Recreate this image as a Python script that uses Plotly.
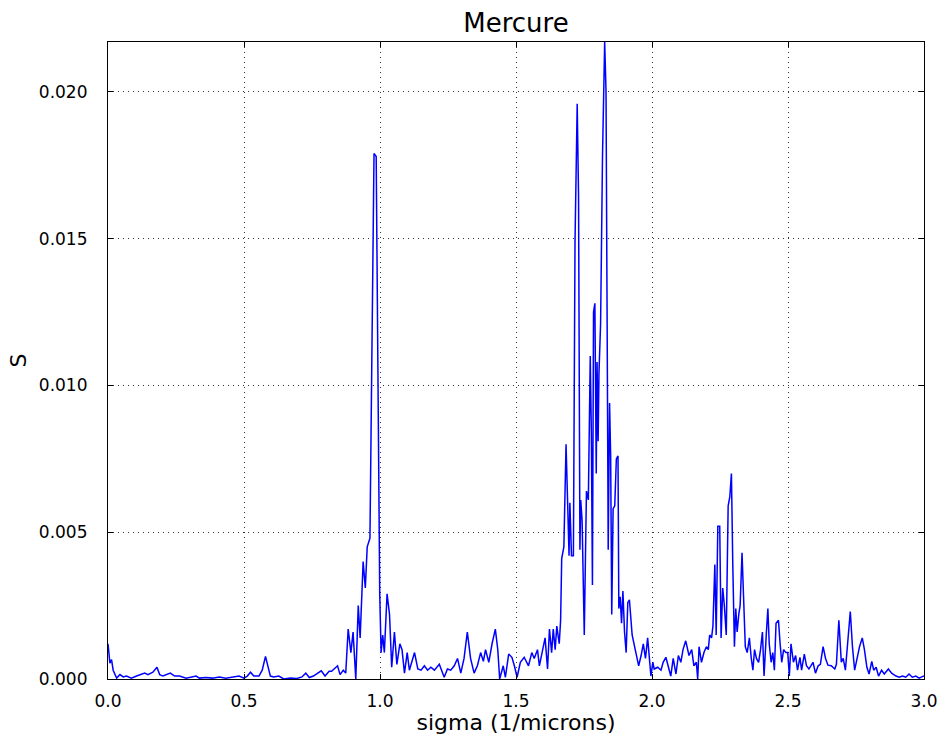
import plotly.graph_objects as go

# sigma (1/microns)
sigma = [
    0.000, 0.007, 0.013, 0.019, 0.026, 0.032, 0.044, 0.056, 0.068, 0.086,
    0.105, 0.117, 0.135, 0.147, 0.165, 0.180, 0.190, 0.202, 0.214, 0.229,
    0.245, 0.263, 0.287, 0.305, 0.324, 0.336, 0.360, 0.384, 0.409, 0.433,
    0.457, 0.482, 0.500, 0.512, 0.524, 0.536, 0.555, 0.567, 0.579, 0.589,
    0.597, 0.609, 0.628, 0.646, 0.670, 0.695, 0.713, 0.727, 0.740, 0.755,
    0.768, 0.784, 0.798, 0.813, 0.822, 0.835, 0.844, 0.853, 0.865, 0.874,
    0.883, 0.893, 0.901, 0.911,
    0.920, 0.927, 0.938, 0.946, 0.953, 0.963, 0.970, 0.978, 0.986, 0.992,
    0.999, 1.004, 1.010, 1.016, 1.026, 1.035, 1.043, 1.053, 1.062, 1.073,
    1.081, 1.090, 1.100, 1.108, 1.127,
    1.139, 1.151, 1.163, 1.175, 1.187, 1.200, 1.218, 1.236, 1.248, 1.260,
    1.273, 1.285, 1.297, 1.309, 1.321, 1.333, 1.346, 1.358, 1.370, 1.380,
    1.388, 1.400, 1.412, 1.424, 1.433, 1.440, 1.453, 1.461, 1.473, 1.485,
    1.494, 1.504, 1.516, 1.530, 1.546, 1.558, 1.567, 1.579, 1.586, 1.599,
    1.607, 1.616, 1.623, 1.631, 1.637, 1.644, 1.650, 1.659, 1.664,
    1.668, 1.676, 1.684, 1.690, 1.695, 1.698, 1.704, 1.711, 1.717, 1.725,
    1.730, 1.735, 1.738, 1.743, 1.751, 1.759, 1.766, 1.773, 1.777, 1.781,
    1.785, 1.790, 1.795, 1.798, 1.802, 1.805, 1.811, 1.818, 1.826, 1.831,
    1.835, 1.839, 1.844, 1.848, 1.852, 1.857, 1.863, 1.869, 1.875, 1.878,
    1.883, 1.888, 1.893, 1.899, 1.905, 1.911, 1.917, 1.927, 1.936,
    1.951, 1.960, 1.968, 1.976, 1.984, 1.996, 2.003, 2.008, 2.021, 2.033,
    2.041, 2.051, 2.061, 2.069, 2.078, 2.088, 2.097, 2.106, 2.114,
    2.124, 2.136, 2.146, 2.154, 2.163, 2.168, 2.173, 2.182, 2.191, 2.200,
    2.207, 2.212, 2.219, 2.224, 2.231, 2.236, 2.242, 2.249, 2.254, 2.260,
    2.266, 2.273, 2.280, 2.286, 2.292, 2.297, 2.303, 2.308, 2.313, 2.319,
    2.324, 2.331, 2.337, 2.343, 2.350, 2.358, 2.365, 2.371, 2.377, 2.384,
    2.392, 2.399, 2.406, 2.412, 2.420, 2.426, 2.431, 2.438, 2.444, 2.450,
    2.456, 2.465, 2.471, 2.477, 2.484, 2.492, 2.499, 2.505,
    2.511, 2.520, 2.528, 2.535, 2.544, 2.550, 2.560, 2.568, 2.577, 2.586,
    2.592, 2.601, 2.611, 2.619, 2.629, 2.638, 2.647, 2.659, 2.672, 2.678,
    2.687, 2.696, 2.703, 2.711, 2.720, 2.729, 2.737, 2.745, 2.754, 2.763,
    2.773, 2.781, 2.790, 2.798, 2.808, 2.815, 2.824, 2.833, 2.844, 2.854,
    2.869, 2.881, 2.897, 2.909, 2.921, 2.933, 2.945, 2.957, 2.970, 2.982,
    2.994, 3.000,
]

# S values
s_values = [
    0.00120, 0.00054, 0.00066, 0.00030, 0.00015, 0.00003, 0.00015, 0.00007, 0.00010, 0.00003,
    0.00010, 0.00015, 0.00020, 0.00015, 0.00023, 0.00040, 0.00015, 0.00010, 0.00015, 0.00020,
    0.00010, 0.00010, 0.00003, 0.00007, 0.00010, 0.00003, 0.00005, 0.00003, 0.00007, 0.00003,
    0.00007, 0.00010, 0.00003, 0.00010, 0.00023, 0.00010, 0.00010, 0.00030, 0.00077, 0.00043,
    0.00010, 0.00007, 0.00010, 0.00000, 0.00003, 0.00002, 0.00007, 0.00020, 0.00005, 0.00010,
    0.00017, 0.00028, 0.00010, 0.00026, 0.00026, 0.00037, 0.00045, 0.00015, 0.00030, 0.00020,
    0.00170, 0.00090, 0.00160, 0.00000,
    0.00250, 0.00140, 0.00400, 0.00310, 0.00450, 0.00480, 0.01020, 0.01790, 0.01780, 0.01000,
    0.00290, 0.00090, 0.00150, 0.00090, 0.00290, 0.00220, 0.00040, 0.00160, 0.00050, 0.00120,
    0.00100, 0.00020, 0.00090, 0.00030, 0.00090,
    0.00034, 0.00030, 0.00045, 0.00030, 0.00040, 0.00030, 0.00050, 0.00006, 0.00034, 0.00030,
    0.00045, 0.00070, 0.00020, 0.00070, 0.00160, 0.00070, 0.00020, 0.00045, 0.00090, 0.00060,
    0.00100, 0.00057, 0.00120, 0.00170, 0.00100, 0.00000, 0.00045, 0.00006, 0.00085, 0.00074,
    0.00045, 0.00006, 0.00057, 0.00074, 0.00045, 0.00090, 0.00070, 0.00100, 0.00045, 0.00110,
    0.00140, 0.00034, 0.00170, 0.00090, 0.00170, 0.00100, 0.00180, 0.00120, 0.00200,
    0.00410, 0.00450, 0.00800, 0.00590, 0.00420, 0.00600, 0.00420, 0.00420, 0.01490, 0.01960,
    0.01640, 0.00440, 0.00610, 0.00540, 0.00150, 0.00640, 0.00610, 0.01100, 0.00840, 0.00320,
    0.01250, 0.01280, 0.00700, 0.01080, 0.00810, 0.01040, 0.01210, 0.01780, 0.02170, 0.02000,
    0.01210, 0.00440, 0.00940, 0.00760, 0.00220, 0.00580, 0.00590, 0.00750, 0.00760, 0.00240,
    0.00280, 0.00190, 0.00300, 0.00160, 0.00090, 0.00260, 0.00270, 0.00150, 0.00110,
    0.00045, 0.00080, 0.00120, 0.00070, 0.00140, 0.00010, 0.00057, 0.00034, 0.00040, 0.00030,
    0.00057, 0.00074, 0.00034, 0.00010, 0.00070, 0.00017, 0.00080, 0.00057, 0.00100,
    0.00130, 0.00080, 0.00100, 0.00045, 0.00057, 0.00000, 0.00110, 0.00057, 0.00090, 0.00110,
    0.00100, 0.00150, 0.00140, 0.00180, 0.00390, 0.00150, 0.00520, 0.00520, 0.00140, 0.00310,
    0.00250, 0.00150, 0.00590, 0.00620, 0.00700, 0.00390, 0.00110, 0.00240, 0.00160, 0.00220,
    0.00250, 0.00430, 0.00270, 0.00110, 0.00090, 0.00140, 0.00070, 0.00030, 0.00100, 0.00070,
    0.00057, 0.00100, 0.00160, 0.00010, 0.00150, 0.00240, 0.00120, 0.00057, 0.00090, 0.00030,
    0.00190, 0.00200, 0.00120, 0.00057, 0.00100, 0.00090, 0.00090, 0.00010,
    0.00120, 0.00057, 0.00080, 0.00030, 0.00074, 0.00030, 0.00085, 0.00045, 0.00034, 0.00050,
    0.00057, 0.00020, 0.00045, 0.00050, 0.00110, 0.00070, 0.00047, 0.00045, 0.00034, 0.00050,
    0.00200, 0.00057, 0.00070, 0.00030, 0.00120, 0.00230, 0.00110, 0.00030, 0.00070, 0.00110,
    0.00140, 0.00100, 0.00040, 0.00017, 0.00060, 0.00030, 0.00040, 0.00010, 0.00030, 0.00017,
    0.00034, 0.00020, 0.00010, 0.00006, 0.00010, 0.00006, 0.00017, 0.00006, 0.00010, 0.00003,
    0.00008, 0.00010,
]

x_ticks = [0.0, 0.5, 1.0, 1.5, 2.0, 2.5, 3.0]
y_ticks = [0.000, 0.005, 0.010, 0.015, 0.020]

FONT = "DejaVu Sans"

fig = go.Figure()
fig.add_trace(go.Scatter(
    x=sigma, y=s_values, mode="lines",
    line=dict(color="#0000ff", width=1.5),
    showlegend=False, hoverinfo="skip",
))

axis_common = dict(
    showline=True, linecolor="black", linewidth=1.2, mirror="ticks",
    ticks="inside", ticklen=5, tickcolor="black", tickwidth=1,
    showgrid=True, gridcolor="rgba(0,0,0,0.8)", gridwidth=1, griddash="1px,4px",
    zeroline=False, ticklabeloverflow="allow",
    tickfont=dict(family=FONT, size=17, color="black"),
)

fig.update_layout(
    width=950, height=740,
    margin=dict(l=108, r=16, t=42, b=60),
    paper_bgcolor="white", plot_bgcolor="white",
    font=dict(family=FONT, color="black"),
    title=dict(text="Mercure", x=0.5, xanchor="center", xref="paper",
               y=1 - 23 / 740, yanchor="middle",
               font=dict(family=FONT, size=26, color="black")),
    xaxis=dict(range=[0, 3.0], tickvals=x_ticks, tickformat=".1f",
               title=dict(text="sigma (1/microns)", font=dict(family=FONT, size=22), standoff=2),
               ticklabelstandoff=6, **axis_common),
    yaxis=dict(range=[0, 0.0217], tickvals=y_ticks, tickformat=".3f",
               title=dict(text="S", font=dict(family=FONT, size=22), standoff=6),
               ticklabelstandoff=16, **axis_common),
)

fig.write_html("out.html")
